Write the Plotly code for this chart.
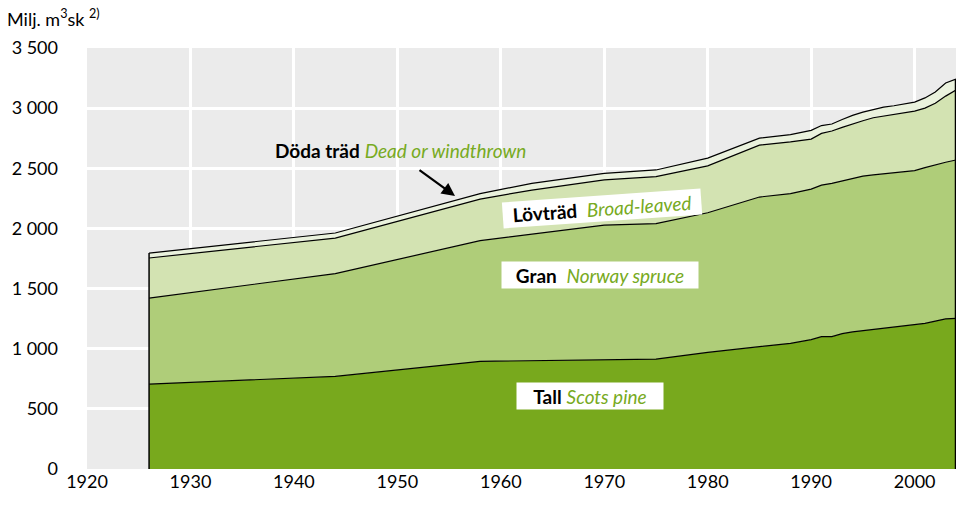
import plotly.graph_objects as go

years = [1926, 1944, 1958, 1963, 1970, 1975, 1980, 1985, 1988, 1990, 1991, 1992,
         1993, 1994, 1995, 1996, 1997, 1998, 1999, 2000, 2001, 2002, 2003, 2004]
tall = [706, 770, 895, 900, 910, 914, 970, 1020, 1045, 1075, 1100, 1100,
        1125, 1140, 1150, 1160, 1170, 1178, 1185, 1195, 1210, 1230, 1248, 1252]
gran = [715, 855, 1003, 1050, 1118, 1126, 1160, 1241, 1245, 1252, 1260, 1275,
        1270, 1280, 1285, 1285, 1285, 1284, 1285, 1285, 1295, 1300, 1302, 1317]
lovtrad = [333, 295, 346, 369, 375, 390, 390, 432, 430, 416, 430, 435,
           445, 450, 460, 475, 480, 483, 490, 495, 495, 510, 550, 581]
doda = [41, 42, 46, 55, 55, 56, 65, 58, 60, 72, 65, 58,
        65, 70, 72, 70, 74, 75, 75, 75, 85, 94, 109, 92]

y_ticks = [0, 500, 1000, 1500, 2000, 2500, 3000, 3500]
y_tick_labels = ["0", "500", "1 000", "1 500", "2 000", "2 500", "3 000", "3 500"]
x_ticks = [1920, 1930, 1940, 1950, 1960, 1970, 1980, 1990, 2000]

FONT = "Lato"
GREEN_TXT = "#77aa22"

series = [
    ("Tall", tall, "#78a91d"),
    ("Gran", gran, "#afcd79"),
    ("Lövträd", lovtrad, "#d3e3b2"),
    ("Döda träd", doda, "#eaf2dd"),
]

fig = go.Figure()
for name, vals, col in series:
    fig.add_trace(go.Scatter(
        x=years, y=vals, name=name, stackgroup="one", mode="lines",
        line=dict(color="black", width=1.2), fillcolor=col,
    ))
# left and right edges of the area
fig.add_trace(go.Scatter(
    x=[years[0], years[0]],
    y=[0, tall[0] + gran[0] + lovtrad[0] + doda[0]],
    mode="lines", line=dict(color="black", width=1.5), showlegend=False,
    hoverinfo="skip"))
fig.add_trace(go.Scatter(
    x=[years[-1], years[-1]],
    y=[0, tall[-1] + gran[-1] + lovtrad[-1] + doda[-1]],
    mode="lines", line=dict(color="black", width=2.5), showlegend=False,
    hoverinfo="skip"))

W, H = 956, 505
L, R, T, B = 87, 0, 48, 36
pw, ph = W - L - R, H - T - B


def px(xp):
    return (xp - L) / pw


def py(yp):
    return (H - B - yp) / ph


annos = [
    dict(text="Milj. m<sup>3</sup>sk <sup>2)</sup>", xref="paper", yref="paper",
         x=px(5), y=py(18), xanchor="left", yanchor="middle", showarrow=False,
         font=dict(family=FONT, size=18, color="black")),
    dict(text="<b>Döda träd</b> <i><span style='color:%s'>Dead or windthrown</span></i>" % GREEN_TXT,
         xref="paper", yref="paper", x=px(400), y=py(150), xanchor="center",
         yanchor="middle", showarrow=False,
         font=dict(family=FONT, size=19, color="black")),
    dict(text="", xref="paper", yref="paper", x=px(455), y=py(196),
         ax=-37, ay=-27, showarrow=True, arrowhead=2, arrowsize=1.2,
         arrowwidth=2.2, arrowcolor="black"),
    dict(text="<b>Lövträd</b>  <i><span style='color:%s'>Broad-leaved</span></i>" % GREEN_TXT,
         xref="paper", yref="paper", x=px(602), y=py(208), xanchor="center",
         yanchor="middle", showarrow=False, textangle=-4, bgcolor="white",
         width=196, height=23,
         font=dict(family=FONT, size=19, color="black")),
    dict(text="<b>Gran</b>  <i><span style='color:%s'>Norway spruce</span></i>" % GREEN_TXT,
         xref="paper", yref="paper", x=px(600), y=py(275), xanchor="center",
         yanchor="middle", showarrow=False, bgcolor="white",
         width=194, height=24,
         font=dict(family=FONT, size=19, color="black")),
    dict(text="<b>Tall</b> <i><span style='color:%s'>Scots pine</span></i>" % GREEN_TXT,
         xref="paper", yref="paper", x=px(590), y=py(396), xanchor="center",
         yanchor="middle", showarrow=False, bgcolor="white",
         width=144, height=24,
         font=dict(family=FONT, size=19, color="black")),
]

fig.update_layout(
    width=W, height=H,
    margin=dict(l=L, r=R, t=T, b=B, autoexpand=False),
    paper_bgcolor="white", plot_bgcolor="#ebebeb",
    showlegend=False,
    font=dict(family=FONT, size=18, color="black"),
    annotations=annos,
    xaxis=dict(range=[1920, 2004], tickvals=x_ticks, showgrid=True,
               gridcolor="white", gridwidth=2.5, zeroline=False,
               ticks="", showline=False, tickfont=dict(size=18),
               automargin=False),
    yaxis=dict(range=[0, 3500], tickvals=y_ticks, ticktext=y_tick_labels,
               showgrid=True, gridcolor="white", gridwidth=2.5,
               zeroline=False, ticks="", ticklabelstandoff=28,
               tickfont=dict(size=18), automargin=False),
)

fig.write_html(
    "out.html",
    config={"displayModeBar": False},
    post_script="document.body.style.margin='0';document.body.style.padding='0';"
                "document.body.style.overflow='hidden';"
                "document.documentElement.style.overflow='hidden';",
)
